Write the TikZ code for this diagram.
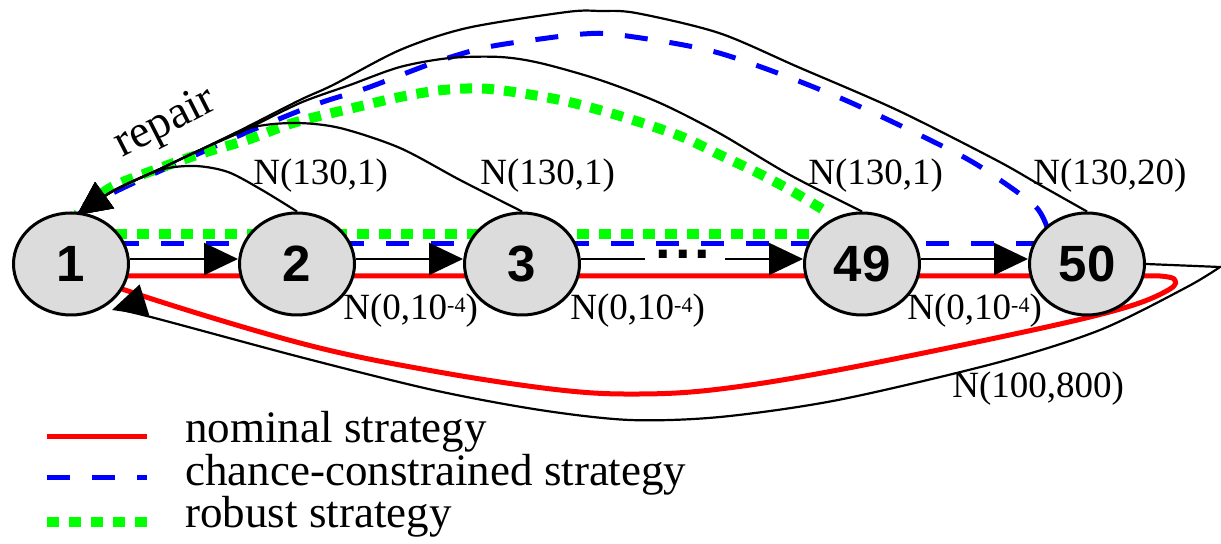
\documentclass[tikz,border=0pt]{standalone}
\usepackage{fontspec}
\setmainfont{Liberation Serif}
\newfontfamily\numfont{Liberation Sans}
\usetikzlibrary{arrows.meta,shapes.geometric,calc}
\definecolor{nodegray}{RGB}{220,220,220}
\pgfdeclarelayer{bg}
\pgfsetlayers{bg,main}
\begin{document}
\begin{tikzpicture}[x=0.5pt,y=-0.5pt,
  state/.style={ellipse,draw,line width=1.5pt,fill=nodegray,minimum width=57.5pt,minimum height=51pt,inner sep=0pt,font=\numfont\bfseries\fontsize{25.5}{25.5}\selectfont},
  lbl/.style={font=\fontsize{18.5}{18.5}\selectfont,inner sep=0pt,anchor=base west},
  leg/.style={font=\fontsize{22.5}{22.5}\selectfont,inner sep=0pt,anchor=base west},
  blk/.style={line width=1.1pt},
  arr/.style={blk,-{Triangle[length=17pt,width=16pt]}},
  nom/.style={line width=2.5pt,red},
  cc/.style={line width=2.5pt,blue,dash pattern=on 11.5pt off 11pt},
  rob/.style={line width=5pt,green,dash pattern=on 6pt off 5pt},
]
\useasboundingbox (0,0) rectangle (1221,544);

% nodes
\node[state] (n1) at (71,264) {1};
\node[state] (n2) at (297,264) {2};
\node[state] (n3) at (522,264) {3};
\node[state] (n49) at (862,264) {49};
\node[state] (n50) at (1087,264) {50};

\coordinate (T) at ($(n1)+(6,-49)$);
\coordinate (g1) at (645,259);
\coordinate (g2) at (725,259);
\coordinate (gs) at ($(n49)+(-40,-55)$);
\coordinate (bs) at ($(n50)+(-40,-37)$);

\begin{pgfonlayer}{bg}
  % coloured strategies
  \draw[rob] ($(n1)+(0,-30)$) -- ($(n49)+(0,-30)$);
  \draw[cc] ($(n1)+(0,-20)$) -- ($(n50)+(0,-20)$);
  \draw[nom] ($(n1)+(0,12)$) -- (1160,276)
    plot[smooth,tension=0.6] coordinates {(1160,276) (1174,279) (1170,289) (1127,307) (1033,330) (838,370) (720,389) (640,394) (560,390) (433,371) (300,343) (125,290) (n1)};
  \draw[cc] plot[smooth] coordinates {(bs) (1036,207) (1000,180) (956,153) (838,97) (719,53) (620,35) (583,34) (533,40) (483,48) (433,63) (367,88) (317,104) (250,131) (200,153) (160,171) (113,193) (T)};
  \draw[rob] plot[smooth] coordinates {(gs) (790,190) (758,173) (720,155) (680,136) (620,116) (560,100) (490,89) (443,90) (400,97) (353,108) (293,123) (247,140) (203,153) (160,168) (110,188) (T)};
\end{pgfonlayer}

% forward arrows
\draw[arr] ($(n1.east)+(0,-5)$) -- ($(n2.west)+(0,-5)$);
\draw[arr] ($(n2.east)+(0,-5)$) -- ($(n3.west)+(0,-5)$);
\draw[blk] ($(n3.east)+(0,-5)$) -- (g1);
\draw[arr] (g2) -- ($(n49.west)+(0,-5)$);
\draw[arr] ($(n49.east)+(0,-5)$) -- ($(n50.west)+(0,-5)$);
\node[anchor=base,inner sep=0pt,font=\numfont\bfseries\fontsize{28}{28}\selectfont] (dots) at (683,259) {.\hspace{2pt}.\hspace{2pt}.};

% repair arcs
\draw[arr] plot[smooth] coordinates {(n2.north) (262,190) (228,172) (195,166) (160,170) (113,191) (T)};
\draw[arr] plot[smooth] coordinates {(n3.north) (460,180) (400,148) (340,128) (295,123) (250,128) (200,150) (160,169) (113,191) (T)};
\draw[arr] plot[smooth] coordinates {(n49.north) (790,175) (719,133) (660,103) (600,80) (540,63) (500,57) (450,58) (400,67) (350,85) (300,103) (243,131) (200,150) (160,169) (113,191) (T)};
\draw[arr] plot[smooth] coordinates {(n50.north) (1040,185) (996,160) (897,110) (798,67) (719,33) (636,13) (600,11) (567,12) (467,28) (400,50) (333,85) (300,100) (243,129) (200,150) (160,169) (113,191) (T)};

% failure return
\draw[arr] (n50.east) -- (1220,267) -- plot[smooth] coordinates {(1220,267) (1187,287) (1100,330) (996,363) (838,400) (720,417) (630,420) (540,410) (433,390) (300,357) (143,315) ($(n1)+(41,46)$)};

% labels
\node[lbl] (a1) at (253,185) {N(130,1)};
\node[lbl] (a2) at (480,185) {N(130,1)};
\node[lbl] (a3) at (808,185) {N(130,1)};
\node[lbl] (a4) at (1033,185) {N(130,20)};
\node[lbl] (b1) at (343,320) {N(0,10\raisebox{3.5pt}{\fontsize{11}{11}\selectfont -4})};
\node[lbl] (b2) at (570,320) {N(0,10\raisebox{3.5pt}{\fontsize{11}{11}\selectfont -4})};
\node[lbl] (b3) at (907,320) {N(0,10\raisebox{3.5pt}{\fontsize{11}{11}\selectfont -4})};
\node[lbl] (c1) at (952,398) {N(100,800)};
\node[font=\fontsize{23}{23}\selectfont,inner sep=0pt,rotate=27] (rep) at (166,124) {repair};

% legend
\coordinate (r1) at (47,437); \coordinate (r2) at (147,437);
\coordinate (u1) at (47,478); \coordinate (u2) at (147,478);
\coordinate (v1) at (47,522); \coordinate (v2) at (147,522);
\draw[nom] (r1) -- (r2);
\draw[cc] (u1) -- (u2);
\draw[rob] (v1) -- (v2);
\node[leg] (t1) at (185,443) {nominal strategy};
\node[leg] (t2) at (185,486) {chance-constrained strategy};
\node[leg] (t3) at (185,528) {robust strategy};
\end{tikzpicture}
\end{document}
